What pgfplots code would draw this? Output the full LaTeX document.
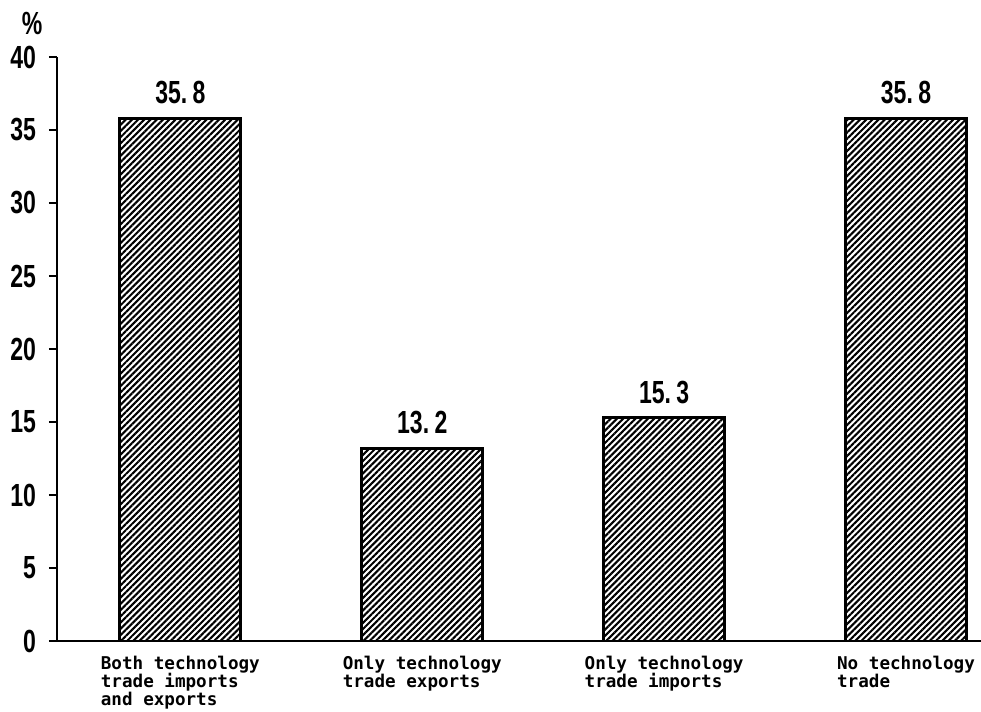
\documentclass[border=0pt]{standalone}
\usepackage{pgfplots}
\pgfplotsset{compat=1.18}
\usepackage{fontspec}
\usetikzlibrary{patterns.meta}
\setmainfont{Liberation Sans}
\newfontfamily\numfont{Liberation Sans}[FakeStretch=0.72]
\newfontfamily\labfont{DejaVu Sans Mono}
\newcommand{\numsty}{\numfont\bfseries\fontsize{16}{16}\selectfont}
\begin{document}
\begin{tikzpicture}
\begin{axis}[
  scale only axis, width=462pt, height=292pt,
  xmin=-0.51, xmax=3.31, ymin=0, ymax=40,
  axis x line=bottom, axis y line=left,
  axis line style={-, line width=1.3pt},
  ytick={0,5,...,40},
  tick align=outside, major tick length=4pt,
  y tick style={line width=1.1pt, black},
  xtick={0,1,2,3}, x tick style={draw=none},
  xticklabels={{Both technology\\trade imports\\and exports},{Only technology\\trade exports},{Only technology\\trade imports},{No technology\\trade}},
  xticklabel style={align=left, font=\labfont\bfseries\fontsize{8.8}{9}\selectfont, anchor=north},
  yticklabel style={font=\numsty, xshift=-3pt},
  /pgf/number format/assume math mode=true,
  ybar, bar width=60.5pt,
  nodes near coords, point meta=explicit symbolic,
  every node near coord/.append style={font=\numsty, yshift=3pt},
  clip=false,
]
\addplot[draw=black, line width=1.4pt, fill=white, pattern={Lines[angle=45,distance=2.2pt,line width=1.05pt]}, pattern color=black]
  coordinates {(0,35.8) [35.\,8] (1,13.2) [13.\,2] (2,15.3) [15.\,3] (3,35.8) [35.\,8]};
\coordinate (O) at (rel axis cs:0,0);
\node[font=\numsty] at (rel axis cs:0,1) [shift={(-12.5pt,17pt)}] {\%};
\end{axis}
\pgfresetboundingbox
\path[use as bounding box] ([shift={(-28.5pt,-35.5pt)}]O) rectangle ++(490.5pt,356pt);
\end{tikzpicture}
\end{document}
